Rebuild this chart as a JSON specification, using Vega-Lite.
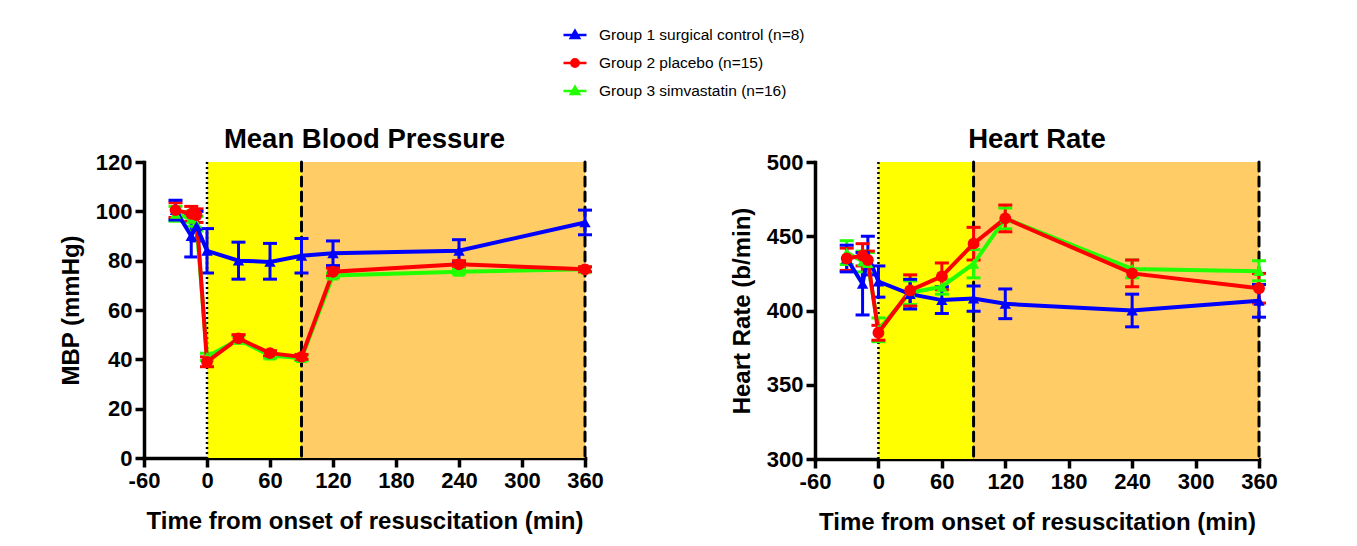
{
  "$schema": "https://vega.github.io/schema/vega-lite/v6.json",
  "padding": {"left": 59, "top": 22, "right": 60, "bottom": 10},
  "bounds": "flush",
  "spacing": 230,
  "datasets": {
    "mbp": [
      {"group": "Group 3 simvastatin (n=16)", "t": -30, "v": 99, "lo": 96, "hi": 102},
      {"group": "Group 3 simvastatin (n=16)", "t": -15, "v": 97, "lo": 94, "hi": 100},
      {"group": "Group 3 simvastatin (n=16)", "t": -10, "v": 95, "lo": 92, "hi": 98},
      {"group": "Group 3 simvastatin (n=16)", "t": 0, "v": 41, "lo": 39.5, "hi": 42.5},
      {"group": "Group 3 simvastatin (n=16)", "t": 30, "v": 48, "lo": 46.5, "hi": 49.5},
      {"group": "Group 3 simvastatin (n=16)", "t": 60, "v": 41.5, "lo": 40.5, "hi": 42.5},
      {"group": "Group 3 simvastatin (n=16)", "t": 90, "v": 40.5, "lo": 39.5, "hi": 41.5},
      {"group": "Group 3 simvastatin (n=16)", "t": 120, "v": 74, "lo": 73, "hi": 75},
      {"group": "Group 3 simvastatin (n=16)", "t": 240, "v": 75.5, "lo": 74.5, "hi": 76.5},
      {"group": "Group 3 simvastatin (n=16)", "t": 360, "v": 76.5, "lo": 75.5, "hi": 77.5},
      {"group": "Group 2 placebo (n=15)", "t": -30, "v": 100.5, "lo": 97.5, "hi": 103.5},
      {"group": "Group 2 placebo (n=15)", "t": -15, "v": 99, "lo": 96, "hi": 102},
      {"group": "Group 2 placebo (n=15)", "t": -10, "v": 98.5, "lo": 95.5, "hi": 101},
      {"group": "Group 2 placebo (n=15)", "t": 0, "v": 39, "lo": 37, "hi": 41},
      {"group": "Group 2 placebo (n=15)", "t": 30, "v": 48.5, "lo": 47, "hi": 50},
      {"group": "Group 2 placebo (n=15)", "t": 60, "v": 42.5, "lo": 41.5, "hi": 43.5},
      {"group": "Group 2 placebo (n=15)", "t": 90, "v": 41, "lo": 40, "hi": 42},
      {"group": "Group 2 placebo (n=15)", "t": 120, "v": 75.5, "lo": 74, "hi": 77},
      {"group": "Group 2 placebo (n=15)", "t": 240, "v": 78.5, "lo": 77, "hi": 80},
      {"group": "Group 2 placebo (n=15)", "t": 360, "v": 76.5, "lo": 75.5, "hi": 77.5},
      {"group": "Group 1 surgical control (n=8)", "t": -30, "v": 100.5, "lo": 96.5, "hi": 104.5},
      {"group": "Group 1 surgical control (n=8)", "t": -15, "v": 90, "lo": 81.5, "hi": 98.5},
      {"group": "Group 1 surgical control (n=8)", "t": -10, "v": 94, "lo": 88, "hi": 100},
      {"group": "Group 1 surgical control (n=8)", "t": 0, "v": 84, "lo": 75, "hi": 93},
      {"group": "Group 1 surgical control (n=8)", "t": 30, "v": 80, "lo": 72.5, "hi": 87.5},
      {"group": "Group 1 surgical control (n=8)", "t": 60, "v": 79.5, "lo": 72.5, "hi": 87},
      {"group": "Group 1 surgical control (n=8)", "t": 90, "v": 82, "lo": 75, "hi": 89},
      {"group": "Group 1 surgical control (n=8)", "t": 120, "v": 83, "lo": 78, "hi": 88},
      {"group": "Group 1 surgical control (n=8)", "t": 240, "v": 84, "lo": 79.5, "hi": 88.5},
      {"group": "Group 1 surgical control (n=8)", "t": 360, "v": 95.5, "lo": 90.5, "hi": 100.5}
    ],
    "hr": [
      {"group": "Group 3 simvastatin (n=16)", "t": -30, "v": 439, "lo": 431, "hi": 447},
      {"group": "Group 3 simvastatin (n=16)", "t": -15, "v": 433, "lo": 426, "hi": 440},
      {"group": "Group 3 simvastatin (n=16)", "t": -10, "v": 432, "lo": 425, "hi": 439},
      {"group": "Group 3 simvastatin (n=16)", "t": 0, "v": 387, "lo": 379, "hi": 395},
      {"group": "Group 3 simvastatin (n=16)", "t": 30, "v": 412, "lo": 404, "hi": 420},
      {"group": "Group 3 simvastatin (n=16)", "t": 60, "v": 416, "lo": 411, "hi": 421},
      {"group": "Group 3 simvastatin (n=16)", "t": 90, "v": 431.5, "lo": 422, "hi": 441},
      {"group": "Group 3 simvastatin (n=16)", "t": 120, "v": 462, "lo": 455, "hi": 469},
      {"group": "Group 3 simvastatin (n=16)", "t": 240, "v": 428, "lo": 422, "hi": 434},
      {"group": "Group 3 simvastatin (n=16)", "t": 360, "v": 426.5, "lo": 420, "hi": 433.5},
      {"group": "Group 2 placebo (n=15)", "t": -30, "v": 435, "lo": 427, "hi": 442},
      {"group": "Group 2 placebo (n=15)", "t": -15, "v": 437, "lo": 430, "hi": 445},
      {"group": "Group 2 placebo (n=15)", "t": -10, "v": 434, "lo": 428, "hi": 440},
      {"group": "Group 2 placebo (n=15)", "t": 0, "v": 385, "lo": 380, "hi": 390},
      {"group": "Group 2 placebo (n=15)", "t": 30, "v": 413.5, "lo": 403, "hi": 424},
      {"group": "Group 2 placebo (n=15)", "t": 60, "v": 423, "lo": 414, "hi": 432},
      {"group": "Group 2 placebo (n=15)", "t": 90, "v": 445, "lo": 434, "hi": 456},
      {"group": "Group 2 placebo (n=15)", "t": 120, "v": 462, "lo": 453, "hi": 471},
      {"group": "Group 2 placebo (n=15)", "t": 240, "v": 425, "lo": 416, "hi": 434},
      {"group": "Group 2 placebo (n=15)", "t": 360, "v": 415, "lo": 405, "hi": 425},
      {"group": "Group 1 surgical control (n=8)", "t": -30, "v": 435, "lo": 426, "hi": 444},
      {"group": "Group 1 surgical control (n=8)", "t": -15, "v": 418, "lo": 397, "hi": 439},
      {"group": "Group 1 surgical control (n=8)", "t": -10, "v": 437, "lo": 424, "hi": 450},
      {"group": "Group 1 surgical control (n=8)", "t": 0, "v": 419.5, "lo": 409, "hi": 430},
      {"group": "Group 1 surgical control (n=8)", "t": 30, "v": 411, "lo": 401, "hi": 421},
      {"group": "Group 1 surgical control (n=8)", "t": 60, "v": 407, "lo": 398, "hi": 416},
      {"group": "Group 1 surgical control (n=8)", "t": 90, "v": 408, "lo": 399.5, "hi": 416.5},
      {"group": "Group 1 surgical control (n=8)", "t": 120, "v": 404.5, "lo": 394.5, "hi": 414.5},
      {"group": "Group 1 surgical control (n=8)", "t": 240, "v": 400, "lo": 389, "hi": 411},
      {"group": "Group 1 surgical control (n=8)", "t": 360, "v": 406.5, "lo": 395.5, "hi": 417.5}
    ],
    "bands": [
      {"start": 0, "end": 90, "phase": "early"},
      {"start": 90, "end": 360, "phase": "late"}
    ],
    "dotted": [{"t": 0}],
    "dashed": [{"t": 90}, {"t": 360}]
  },
  "hconcat": [
    {
      "width": 441,
      "height": 296,
      "title": "Mean Blood Pressure",
      "layer": [
        {
          "data": {"name": "bands"},
          "mark": {"type": "rect"},
          "encoding": {
            "x": {"field": "start", "type": "quantitative", "scale": {"domain": [-60, 360], "nice": false}},
            "x2": {"field": "end"},
            "fill": {"field": "phase", "type": "nominal", "scale": {"domain": ["early", "late"], "range": ["#FFFF00", "#FFCC66"]}, "legend": null}
          }
        },
        {
          "data": {"name": "dotted"},
          "mark": {"type": "rule", "color": "black", "strokeWidth": 2.5, "strokeDash": [2, 3]},
          "encoding": {"x": {"field": "t", "type": "quantitative"}}
        },
        {
          "data": {"name": "dashed"},
          "mark": {"type": "rule", "color": "black", "strokeWidth": 3, "strokeDash": [9, 6], "strokeCap": "round"},
          "encoding": {"x": {"field": "t", "type": "quantitative"}}
        },
        {
          "data": {"name": "mbp"},
          "layer": [
            {
              "mark": {"type": "rule", "strokeWidth": 3, "opacity": 1},
              "encoding": {
                "x": {"field": "t", "type": "quantitative"},
                "y": {"field": "lo", "type": "quantitative", "scale": {"domain": [0, 120], "nice": false}},
                "y2": {"field": "hi"},
                "color": {"field": "group", "type": "nominal"}
              }
            },
            {
              "mark": {"type": "tick", "orient": "horizontal", "size": 14, "thickness": 3, "opacity": 1},
              "encoding": {
                "x": {"field": "t", "type": "quantitative"},
                "y": {"field": "lo", "type": "quantitative"},
                "color": {"field": "group", "type": "nominal"}
              }
            },
            {
              "mark": {"type": "tick", "orient": "horizontal", "size": 14, "thickness": 3, "opacity": 1},
              "encoding": {
                "x": {"field": "t", "type": "quantitative"},
                "y": {"field": "hi", "type": "quantitative"},
                "color": {"field": "group", "type": "nominal"}
              }
            },
            {
              "mark": {"type": "line", "strokeWidth": 4},
              "encoding": {
                "x": {"field": "t", "type": "quantitative"},
                "y": {"field": "v", "type": "quantitative"},
                "color": {"field": "group", "type": "nominal"}
              }
            },
            {
              "transform": [{"filter": "datum.group !== 'Group 2 placebo (n=15)'"}],
              "mark": {"type": "point", "shape": "triangle-up", "filled": true, "opacity": 1, "size": 130},
              "encoding": {
                "x": {"field": "t", "type": "quantitative"},
                "y": {"field": "v", "type": "quantitative"},
                "color": {"field": "group", "type": "nominal"}
              }
            },
            {
              "transform": [{"filter": "datum.group === 'Group 2 placebo (n=15)'"}],
              "mark": {"type": "point", "shape": "circle", "filled": true, "opacity": 1, "size": 140},
              "encoding": {
                "x": {"field": "t", "type": "quantitative"},
                "y": {"field": "v", "type": "quantitative"},
                "color": {"field": "group", "type": "nominal"}
              }
            },
            {
              "mark": {"type": "point", "filled": true, "opacity": 0},
              "encoding": {
                "x": {"field": "t", "type": "quantitative", "axis": {"values": [-60, 0, 60, 120, 180, 240, 300, 360], "title": "Time from onset of resuscitation (min)"}},
                "y": {"field": "v", "type": "quantitative", "scale": {"domain": [0, 120], "nice": false}, "axis": {"values": [0, 20, 40, 60, 80, 100, 120], "title": "MBP (mmHg)"}},
                "color": {
                  "field": "group", "type": "nominal",
                  "scale": {"domain": ["Group 1 surgical control (n=8)", "Group 2 placebo (n=15)", "Group 3 simvastatin (n=16)"], "range": ["#0000FF", "#FF0000", "#22FF00"]},
                  "legend": {"title": null, "orient": "none", "legendX": 418, "legendY": -140, "symbolSize": 529, "symbolStrokeWidth": 2.5, "labelOffset": 11, "rowPadding": 6, "labelFontSize": 15.5, "labelLimit": 400, "labelFont": "Liberation Sans", "labelColor": "black", "symbolOpacity": 1,
                    "encode": {"symbols": {"update": {"shape": {"scale": "shape", "field": "value"}, "stroke": {"scale": "color", "field": "value"}, "fill": {"scale": "color", "field": "value"}, "opacity": {"value": 1}, "strokeWidth": {"value": 2.5}}}}}
                },
                "shape": {
                  "field": "group", "type": "nominal",
                  "scale": {"domain": ["Group 1 surgical control (n=8)", "Group 2 placebo (n=15)", "Group 3 simvastatin (n=16)"], "range": ["M-1,0H1M0,-0.36L0.36,0.26L-0.36,0.26Z", "M-1,0H1M0.32,0A0.32,0.32 0 1,1 -0.32,0A0.32,0.32 0 1,1 0.32,0Z", "M-1,0H1M0,-0.36L0.36,0.26L-0.36,0.26Z"]},
                  "legend": {"title": null, "orient": "none", "legendX": 418, "legendY": -140, "symbolSize": 529, "symbolStrokeWidth": 2.5, "labelOffset": 11, "rowPadding": 6, "labelFontSize": 15.5, "labelLimit": 400, "labelFont": "Liberation Sans", "labelColor": "black", "symbolOpacity": 1,
                    "encode": {"symbols": {"update": {"shape": {"scale": "shape", "field": "value"}, "stroke": {"scale": "color", "field": "value"}, "fill": {"scale": "color", "field": "value"}, "opacity": {"value": 1}, "strokeWidth": {"value": 2.5}}}}}
                }
              }
            }
          ]
        }
      ]
    },
    {
      "width": 444,
      "height": 297,
      "title": "Heart Rate",
      "layer": [
        {
          "data": {"name": "bands"},
          "mark": {"type": "rect"},
          "encoding": {
            "x": {"field": "start", "type": "quantitative", "scale": {"domain": [-60, 360], "nice": false}},
            "x2": {"field": "end"},
            "fill": {"field": "phase", "type": "nominal", "legend": null}
          }
        },
        {
          "data": {"name": "dotted"},
          "mark": {"type": "rule", "color": "black", "strokeWidth": 2.5, "strokeDash": [2, 3]},
          "encoding": {"x": {"field": "t", "type": "quantitative"}}
        },
        {
          "data": {"name": "dashed"},
          "mark": {"type": "rule", "color": "black", "strokeWidth": 3, "strokeDash": [9, 6], "strokeCap": "round"},
          "encoding": {"x": {"field": "t", "type": "quantitative"}}
        },
        {
          "data": {"name": "hr"},
          "layer": [
            {
              "mark": {"type": "rule", "strokeWidth": 3, "opacity": 1},
              "encoding": {
                "x": {"field": "t", "type": "quantitative"},
                "y": {"field": "lo", "type": "quantitative", "scale": {"domain": [300, 500], "nice": false, "zero": false}},
                "y2": {"field": "hi"},
                "color": {"field": "group", "type": "nominal"}
              }
            },
            {
              "mark": {"type": "tick", "orient": "horizontal", "size": 14, "thickness": 3, "opacity": 1},
              "encoding": {
                "x": {"field": "t", "type": "quantitative"},
                "y": {"field": "lo", "type": "quantitative", "scale": {"domain": [300, 500], "nice": false, "zero": false}},
                "color": {"field": "group", "type": "nominal"}
              }
            },
            {
              "mark": {"type": "tick", "orient": "horizontal", "size": 14, "thickness": 3, "opacity": 1},
              "encoding": {
                "x": {"field": "t", "type": "quantitative"},
                "y": {"field": "hi", "type": "quantitative", "scale": {"domain": [300, 500], "nice": false, "zero": false}},
                "color": {"field": "group", "type": "nominal"}
              }
            },
            {
              "mark": {"type": "line", "strokeWidth": 4},
              "encoding": {
                "x": {"field": "t", "type": "quantitative"},
                "y": {"field": "v", "type": "quantitative", "scale": {"domain": [300, 500], "nice": false, "zero": false}},
                "color": {"field": "group", "type": "nominal"}
              }
            },
            {
              "transform": [{"filter": "datum.group !== 'Group 2 placebo (n=15)'"}],
              "mark": {"type": "point", "shape": "triangle-up", "filled": true, "opacity": 1, "size": 130},
              "encoding": {
                "x": {"field": "t", "type": "quantitative"},
                "y": {"field": "v", "type": "quantitative", "scale": {"domain": [300, 500], "nice": false, "zero": false}},
                "color": {"field": "group", "type": "nominal"}
              }
            },
            {
              "transform": [{"filter": "datum.group === 'Group 2 placebo (n=15)'"}],
              "mark": {"type": "point", "shape": "circle", "filled": true, "opacity": 1, "size": 140},
              "encoding": {
                "x": {"field": "t", "type": "quantitative", "axis": {"values": [-60, 0, 60, 120, 180, 240, 300, 360], "title": "Time from onset of resuscitation (min)"}},
                "y": {"field": "v", "type": "quantitative", "scale": {"domain": [300, 500], "nice": false, "zero": false}, "axis": {"values": [300, 350, 400, 450, 500], "title": "Heart Rate (b/min)"}},
                "color": {"field": "group", "type": "nominal"}
              }
            }
          ]
        }
      ]
    }
  ],
  "config": {
    "view": {"stroke": null},
    "font": "Liberation Sans",
    "axis": {
      "domainColor": "black", "domainWidth": 3.5, "tickColor": "black", "tickWidth": 3.5, "tickSize": 9,
      "labelFont": "Liberation Sans", "labelFontSize": 22, "labelFontWeight": "bold", "labelColor": "black",
      "titleFont": "Liberation Sans", "titleFontSize": 24, "titleFontWeight": "bold", "titleColor": "black",
      "grid": false, "domainCap": "square", "labelFlush": false, "labelOverlap": false,
      "labelExpr": "replace(datum.label, '\u2212', '-')"
    },
    "axisX": {"labelPadding": 3, "titlePadding": 18},
    "axisY": {"labelPadding": 3, "titlePadding": 12},
    "title": {"font": "Liberation Sans", "fontSize": 27.5, "fontWeight": "bold", "color": "black", "offset": -2}
  }
}
